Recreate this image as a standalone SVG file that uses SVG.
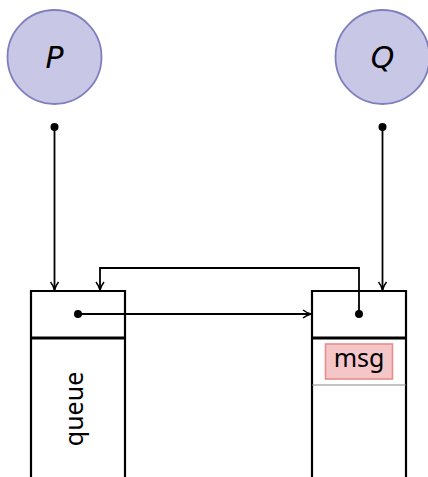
<svg xmlns="http://www.w3.org/2000/svg" width="428" height="477" viewBox="0 0 428 477">
<defs>
<style>
.proc{fill:#c8c8e6;stroke:#7f7fbf;stroke-width:1.8}
.plab{font-family:"DejaVu Sans","Liberation Sans",sans-serif;font-style:italic;font-size:30px;fill:#000;text-anchor:middle}
.box{fill:none;stroke:#000;stroke-width:2.2}
.conn{fill:none;stroke:#000;stroke-width:1.8}
.txt{font-family:"Noto Sans","Open Sans",sans-serif;font-size:25px;fill:#000;text-anchor:middle}
</style>
<marker id="arr" viewBox="0 0 10 10" refX="9" refY="5" markerWidth="10" markerHeight="10" markerUnits="userSpaceOnUse" orient="auto">
<path d="M1,1 Q5,4 9,5 Q5,6 1,9" fill="none" stroke="#000" stroke-width="1.5"/>
</marker>
</defs>
<rect width="428" height="477" fill="#fff"/>
<g id="P">
<circle class="proc" cx="54.5" cy="57" r="47"/>
<text class="plab" x="54.5" y="68">P</text>
</g>
<g id="Q">
<circle class="proc" cx="382.5" cy="57" r="47"/>
<text class="plab" x="382.5" y="68">Q</text>
</g>
<g id="queueP">
<line class="box" x1="30" y1="291" x2="126" y2="291"/>
<line class="box" x1="31" y1="290" x2="31" y2="477"/>
<line class="box" x1="125" y1="290" x2="125" y2="477"/>
<line x1="31" y1="338" x2="125" y2="338" stroke="#000" stroke-width="2.8"/>
<text class="txt" transform="translate(82.5,409) rotate(-90)" x="0" y="0">queue</text>
</g>
<g id="queueQ">
<line class="box" x1="311" y1="291" x2="407" y2="291"/>
<line class="box" x1="312" y1="290" x2="312" y2="477"/>
<line class="box" x1="406" y1="290" x2="406" y2="477"/>
<line x1="312" y1="338" x2="406" y2="338" stroke="#000" stroke-width="2.8"/>
<line x1="312" y1="385" x2="406" y2="385" stroke="#888" stroke-width="1"/>
<g id="msg">
<rect x="325.5" y="344" width="67" height="35" fill="#f4c6c8" stroke="#e88c8c" stroke-width="1.6"/>
<text class="txt" x="359" y="367">msg</text>
</g>
</g>
<g id="connectors">
<circle cx="54.5" cy="127" r="4"/>
<circle cx="382.5" cy="127" r="4"/>
<line class="conn" x1="54.5" y1="127" x2="54.5" y2="290" marker-end="url(#arr)"/>
<line class="conn" x1="382.5" y1="127" x2="382.5" y2="290" marker-end="url(#arr)"/>
<circle cx="78" cy="314" r="4"/>
<line class="conn" x1="78" y1="314" x2="311" y2="314" marker-end="url(#arr)"/>
<circle cx="359" cy="314" r="4"/>
<path class="conn" d="M359,314 V268 H100 V290" marker-end="url(#arr)"/>
</g>
</svg>
